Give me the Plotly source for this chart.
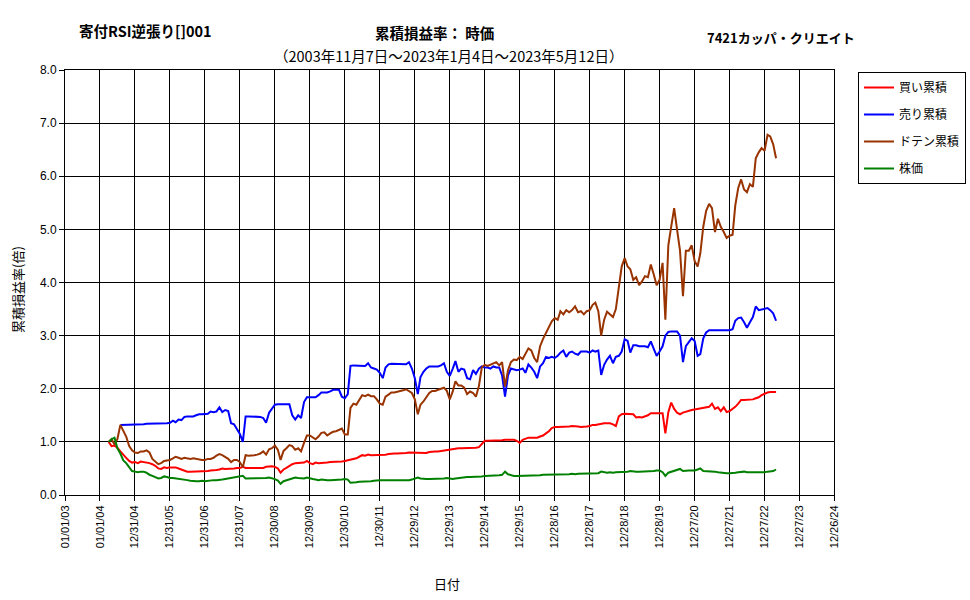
import pandas as pd
import plotly.graph_objects as go

# ---- data (monthly samples) ----
dates = pd.date_range("2004-04-01", "2023-05-01", freq="MS")

buy_cum = [  # 買い累積
    1.00, 0.92, 0.93, 0.89, 0.82, 0.75, 0.70, 0.64, 0.61,
    0.62, 0.60, 0.63, 0.62, 0.62, 0.60, 0.58, 0.55, 0.50, 0.49, 0.52, 0.51,
    0.52, 0.52, 0.52, 0.50, 0.48, 0.45, 0.44, 0.44, 0.44, 0.44, 0.44, 0.44,
    0.44, 0.45, 0.46, 0.46, 0.47, 0.48, 0.50, 0.49, 0.49, 0.50, 0.50, 0.51,
    0.51, 0.53, 0.51, 0.51, 0.51, 0.51, 0.51, 0.51, 0.51, 0.53, 0.54, 0.54,
    0.53, 0.50, 0.42, 0.48, 0.51, 0.55, 0.58, 0.60, 0.60, 0.60, 0.61, 0.64,
    0.60, 0.58, 0.61, 0.60, 0.60, 0.60, 0.61, 0.62, 0.62, 0.62, 0.62, 0.63,
    0.64, 0.65, 0.67, 0.68, 0.69, 0.72, 0.75, 0.74, 0.76, 0.75, 0.75, 0.75,
    0.75, 0.75, 0.76, 0.77, 0.78, 0.78, 0.78, 0.78, 0.79, 0.79, 0.80, 0.80,
    0.80, 0.80, 0.80, 0.80, 0.79, 0.81, 0.82, 0.82, 0.82, 0.83, 0.84, 0.85,
    0.85, 0.86, 0.87, 0.88, 0.88, 0.88, 0.88, 0.88, 0.89, 0.89, 0.90, 0.96,
    1.02, 1.02, 1.02, 1.02, 1.02, 1.02, 1.03, 1.04, 1.04, 1.04, 1.04, 1.02,
    0.98, 1.04, 1.06, 1.08, 1.08, 1.08, 1.08, 1.10, 1.12, 1.16, 1.20, 1.26,
    1.28, 1.28, 1.28, 1.28, 1.28, 1.29, 1.30, 1.30, 1.29, 1.28, 1.28, 1.29,
    1.30, 1.32, 1.32, 1.33, 1.35, 1.35, 1.35, 1.35, 1.33, 1.30, 1.48, 1.52,
    1.53, 1.53, 1.53, 1.52, 1.46, 1.47, 1.46, 1.48, 1.50, 1.54, 1.54, 1.54,
    1.54, 1.54, 1.16, 1.56, 1.74, 1.62, 1.55, 1.52, 1.55, 1.57, 1.58, 1.60,
    1.61, 1.62, 1.63, 1.64, 1.65, 1.66, 1.72, 1.62, 1.65, 1.58, 1.65, 1.56,
    1.58, 1.62, 1.66, 1.72, 1.79, 1.79, 1.79, 1.79, 1.80, 1.82, 1.84, 1.88,
    1.91, 1.93, 1.94, 1.94, 1.94,
]

sell_cum = [  # 売り累積
    None, None, None, None, 1.32, 1.32, 1.32, 1.32, 1.32,
    1.33, 1.33, 1.33, 1.33, 1.34, 1.34, 1.34, 1.34, 1.34, 1.35, 1.35, 1.35,
    1.36, 1.40, 1.37, 1.42, 1.41, 1.47, 1.48, 1.48, 1.48, 1.50, 1.52, 1.52,
    1.53, 1.53, 1.57, 1.56, 1.57, 1.65, 1.56, 1.60, 1.58, 1.35, 1.33, 1.25,
    1.15, 1.00, 1.48, 1.48, 1.48, 1.48, 1.48, 1.47, 1.45, 1.36, 1.55, 1.62,
    1.70, 1.71, 1.71, 1.71, 1.71, 1.71, 1.50, 1.42, 1.50, 1.45, 1.75, 1.84,
    1.84, 1.84, 1.84, 1.88, 1.93, 1.93, 1.93, 1.95, 1.98, 1.98, 1.98, 1.85,
    1.82, 1.90, 2.43, 2.44, 2.44, 2.44, 2.44, 2.43, 2.48, 2.40, 2.38, 2.36,
    2.30, 2.20, 2.40, 2.46, 2.47, 2.47, 2.47, 2.47, 2.46, 2.46, 2.50, 2.38,
    2.20, 1.90, 2.22, 2.32, 2.38, 2.42, 2.42, 2.42, 2.42, 2.44, 2.48, 2.32,
    2.24, 2.38, 2.52, 2.32, 2.38, 2.36, 2.20, 2.18, 2.35, 2.28, 2.38, 2.42,
    2.40, 2.40, 2.38, 2.42, 2.40, 2.40, 2.25, 1.85, 2.25, 2.38, 2.36, 2.35,
    2.36, 2.38, 2.30, 2.46, 2.40, 2.32, 2.20, 2.42, 2.48, 2.60, 2.58, 2.60,
    2.58, 2.62, 2.68, 2.72, 2.60, 2.68, 2.70, 2.66, 2.64, 2.70, 2.70, 2.70,
    2.68, 2.72, 2.70, 2.72, 2.26, 2.45, 2.55, 2.62, 2.48, 2.60, 2.62, 2.70,
    2.93, 2.90, 2.68, 2.82, 2.82, 2.80, 2.80, 2.80, 2.78, 2.89, 2.75, 2.62,
    2.70, 2.80, 3.00, 3.07, 3.08, 3.08, 3.08, 3.00, 2.50, 2.80, 2.88, 2.95,
    2.90, 2.62, 2.65, 2.95, 3.06, 3.10, 3.10, 3.10, 3.10, 3.10, 3.10, 3.10,
    3.10, 3.12, 3.28, 3.33, 3.34, 3.25, 3.15, 3.25, 3.35, 3.55, 3.48, 3.49,
    3.50, 3.52, 3.48, 3.42, 3.28,
]

doten_cum = [  # ドテン累積
    1.00, 1.05, 0.95, 1.05, 1.32, 1.22, 1.10, 0.92, 0.84,
    0.80, 0.79, 0.82, 0.82, 0.84, 0.80, 0.68, 0.62, 0.58, 0.60, 0.64, 0.65,
    0.66, 0.69, 0.72, 0.70, 0.68, 0.70, 0.69, 0.68, 0.69, 0.68, 0.66, 0.66,
    0.66, 0.68, 0.68, 0.70, 0.74, 0.77, 0.75, 0.72, 0.68, 0.62, 0.66, 0.66,
    0.62, 0.52, 0.75, 0.74, 0.74, 0.75, 0.76, 0.78, 0.82, 0.76, 0.86, 0.88,
    0.93, 0.85, 0.66, 0.83, 0.88, 0.94, 0.92, 0.85, 0.88, 0.82, 0.98, 1.12,
    1.12, 1.08, 1.05, 1.10, 1.17, 1.18, 1.12, 1.16, 1.19, 1.20, 1.22, 1.25,
    1.14, 1.14, 1.64, 1.72, 1.70, 1.79, 1.88, 1.86, 1.89, 1.86, 1.86, 1.80,
    1.72, 1.70, 1.85, 1.89, 1.93, 1.93, 1.94, 1.96, 1.97, 1.99, 1.96, 1.92,
    1.80, 1.52, 1.70, 1.76, 1.84, 1.92, 1.96, 1.96, 1.98, 2.00, 2.02, 1.96,
    1.80, 1.95, 2.14, 2.06, 2.06, 2.02, 1.90, 1.95, 1.92, 1.85, 2.05, 2.40,
    2.45, 2.43, 2.45, 2.48, 2.50, 2.44, 2.50, 2.04, 2.35, 2.50, 2.55, 2.54,
    2.60, 2.56, 2.66, 2.76, 2.72, 2.58, 2.50, 2.80, 2.94, 3.05, 3.14, 3.27,
    3.33, 3.30, 3.46, 3.40, 3.48, 3.44, 3.48, 3.55, 3.44, 3.46, 3.40, 3.46,
    3.48, 3.58, 3.62, 3.46, 3.00, 3.30, 3.45, 3.40, 3.35, 3.50, 3.90, 4.30,
    4.46, 4.30, 4.25, 4.05, 4.10, 3.95, 4.02, 4.12, 4.10, 4.34, 4.15, 3.95,
    4.05, 4.37, 3.30, 4.70, 5.05, 5.40, 5.00, 4.60, 3.74, 4.60, 4.60, 4.70,
    4.40, 4.30, 4.55, 5.05, 5.35, 5.48, 5.40, 4.95, 5.20, 5.05, 4.95, 4.84,
    4.88, 4.90, 5.45, 5.78, 5.94, 5.75, 5.70, 5.85, 5.80, 6.34, 6.45, 6.53,
    6.48, 6.78, 6.75, 6.60, 6.34,
]

stock_price = [  # 株価
    1.00, 1.05, 1.08, 0.88, 0.78, 0.65, 0.60, 0.52, 0.45,
    0.44, 0.43, 0.44, 0.44, 0.42, 0.38, 0.36, 0.34, 0.31, 0.32, 0.35, 0.34,
    0.32, 0.32, 0.31, 0.31, 0.30, 0.29, 0.28, 0.27, 0.26, 0.26, 0.26, 0.27,
    0.26, 0.27, 0.27, 0.28, 0.28, 0.28, 0.29, 0.30, 0.31, 0.32, 0.33, 0.34,
    0.34, 0.36, 0.31, 0.31, 0.31, 0.31, 0.31, 0.31, 0.31, 0.32, 0.33, 0.32,
    0.30, 0.27, 0.21, 0.26, 0.28, 0.30, 0.31, 0.33, 0.32, 0.31, 0.31, 0.33,
    0.31, 0.30, 0.29, 0.28, 0.29, 0.28, 0.28, 0.28, 0.28, 0.28, 0.28, 0.29,
    0.30, 0.29, 0.23, 0.23, 0.24, 0.25, 0.25, 0.25, 0.26, 0.26, 0.27, 0.28,
    0.28, 0.28, 0.28, 0.28, 0.28, 0.27, 0.27, 0.27, 0.27, 0.27, 0.28, 0.29,
    0.31, 0.33, 0.31, 0.30, 0.30, 0.30, 0.30, 0.30, 0.30, 0.30, 0.31, 0.32,
    0.31, 0.30, 0.31, 0.32, 0.32, 0.33, 0.34, 0.34, 0.34, 0.35, 0.34, 0.35,
    0.36, 0.36, 0.36, 0.36, 0.36, 0.37, 0.38, 0.44, 0.39, 0.37, 0.36, 0.36,
    0.36, 0.36, 0.37, 0.37, 0.37, 0.37, 0.37, 0.37, 0.38, 0.38, 0.38, 0.38,
    0.38, 0.38, 0.39, 0.39, 0.39, 0.39, 0.40, 0.39, 0.40, 0.40, 0.40, 0.40,
    0.40, 0.41, 0.40, 0.41, 0.44, 0.43, 0.42, 0.43, 0.42, 0.43, 0.43, 0.43,
    0.44, 0.44, 0.45, 0.44, 0.44, 0.44, 0.44, 0.44, 0.45, 0.45, 0.45, 0.46,
    0.46, 0.43, 0.36, 0.42, 0.44, 0.45, 0.47, 0.49, 0.45, 0.46, 0.46, 0.46,
    0.46, 0.48, 0.50, 0.45, 0.45, 0.45, 0.45, 0.44, 0.43, 0.42, 0.41, 0.41,
    0.41, 0.41, 0.42, 0.43, 0.44, 0.44, 0.43, 0.43, 0.42, 0.42, 0.42, 0.43,
    0.43, 0.44, 0.44, 0.45, 0.48,
]

series_names = ["買い累積", "売り累積", "ドテン累積", "株価"]
series_colors = ["#FF0000", "#0000FF", "#993300", "#008000"]

tick_dates = [
    "2003-01-01", "2004-01-01", "2004-12-31", "2005-12-31", "2006-12-31",
    "2007-12-31", "2008-12-30", "2009-12-30", "2010-12-30", "2011-12-30",
    "2012-12-29", "2013-12-29", "2014-12-29", "2015-12-29", "2016-12-28",
    "2017-12-28", "2018-12-28", "2019-12-28", "2020-12-27", "2021-12-27",
    "2022-12-27", "2023-12-27", "2024-12-26",
]
tick_labels = [
    "01/01/03", "01/01/04", "12/31/04", "12/31/05", "12/31/06",
    "12/31/07", "12/30/08", "12/30/09", "12/30/10", "12/30/11",
    "12/29/12", "12/29/13", "12/29/14", "12/29/15", "12/28/16",
    "12/28/17", "12/28/18", "12/28/19", "12/27/20", "12/27/21",
    "12/27/22", "12/27/23", "12/26/24",
]

for s in (buy_cum, sell_cum, doten_cum, stock_price):
    assert len(s) == len(dates), (len(s), len(dates))

JP = "Noto Sans CJK JP"
NUM = "Liberation Sans"

fig = go.Figure()
for name, vals, color in zip(series_names, [buy_cum, sell_cum, doten_cum, stock_price], series_colors):
    fig.add_trace(go.Scatter(
        x=dates, y=vals, mode="lines", name=name, legendgroup=name,
        line=dict(color=color, width=2), connectgaps=False,
    ))

L, R, T, B = 65, 136, 70, 105
W, H = 970, 600
pw, ph = W - L - R, H - T - B


def px_x(x):
    return (x - L) / pw


def px_y(y):
    return (H - B - y) / ph


axis_common = dict(
    showgrid=True, gridcolor="black", gridwidth=1,
    showline=True, linecolor="black", linewidth=1, mirror=True,
    ticks="outside", ticklen=5, tickcolor="black", tickwidth=1,
    zeroline=False, automargin=False,
)

fig.update_layout(
    width=W, height=H,
    margin=dict(l=L, r=R, t=T, b=B, pad=0, autoexpand=False),
    paper_bgcolor="white", plot_bgcolor="white",
    font=dict(family=JP, color="black", size=12),
    xaxis=dict(
        type="date", range=["2003-01-01", "2024-12-26"],
        tickmode="array", tickvals=tick_dates, ticktext=tick_labels,
        tickangle=-90, tickfont=dict(family=NUM, size=11, color="black"),
        **axis_common,
    ),
    yaxis=dict(
        range=[0, 8], dtick=1, tick0=0, tickformat=".1f",
        tickfont=dict(family=NUM, size=12, color="black"),
        **axis_common,
    ),
    legend=dict(
        xref="container", yref="container",
        x=858 / W, y=1 - 72 / H, xanchor="left", yanchor="top",
        bordercolor="black", borderwidth=1, bgcolor="white",
        font=dict(family=JP, size=12, color="black"),
        tracegroupgap=8, itemwidth=30,
    ),
    showlegend=True,
)

annotations = [
    dict(text="<b>寄付RSI逆張り[]001</b>", x=px_x(145), y=px_y(31), size=14.5),
    dict(text="<b>累積損益率： 時価</b>", x=px_x(434), y=px_y(32), size=14.5),
    dict(text="<b>7421カッパ・クリエイト</b>", x=px_x(781), y=px_y(37), size=13),
    dict(text="（2003年11月7日～2023年1月4日～2023年5月12日）", x=px_x(448), y=px_y(56), size=14.5),
    dict(text="日付", x=px_x(447), y=px_y(583), size=13),
]
for a in annotations:
    fig.add_annotation(
        text=a["text"], x=a["x"], y=a["y"], xref="paper", yref="paper",
        xanchor="center", yanchor="middle", showarrow=False,
        font=dict(family=JP, size=a["size"], color="black"),
    )
fig.add_annotation(
    text="累積損益率(倍)", x=px_x(17), y=px_y(290), xref="paper", yref="paper",
    xanchor="center", yanchor="middle", showarrow=False, textangle=-90,
    font=dict(family=JP, size=13, color="black"),
)

fig.write_html("out.html")
